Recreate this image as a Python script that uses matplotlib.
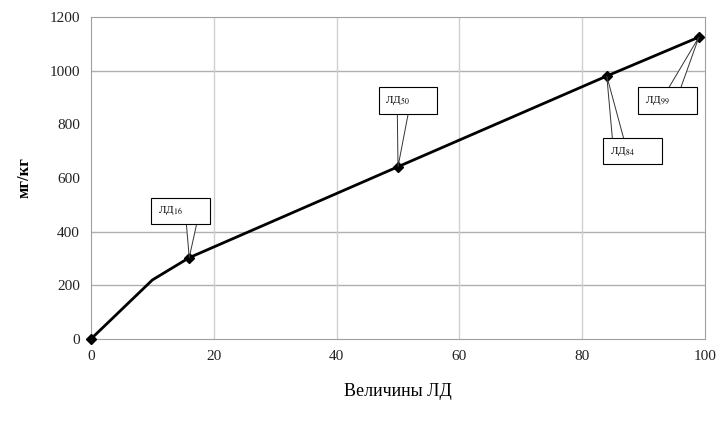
import matplotlib
matplotlib.use('Agg')
import matplotlib.pyplot as plt
import numpy as np

# данные кривой
ld = [0, 10, 16, 50, 84, 99]
doza = [0, 220, 303, 642, 980, 1125]
# точки с маркерами
ld_pts = [0, 16, 50, 84, 99]
doza_pts = [0, 303, 642, 980, 1125]

# подписи-выноски
metki = ['ЛД$_{16}$', 'ЛД$_{50}$', 'ЛД$_{84}$', 'ЛД$_{99}$']
metki_x = [16, 50, 84, 99]
metki_y = [303, 642, 980, 1125]
box_xy = [(14.6, 477), (51.6, 889), (88.2, 700), (93.9, 889)]
# где выноска крепится к рамке
rel = [(0.75, 0.0), (0.4, 0.0), (0.2, 1.0), (0.6, 1.0)]

plt.rcParams['font.family'] = ['Liberation Serif', 'DejaVu Serif']
plt.rcParams['mathtext.fontset'] = 'stix'

fig = plt.figure(figsize=(7.22, 4.25), dpi=100)
ax = fig.add_axes([0.126, 0.2024, 0.8505, 0.7576])

ax.set_xlim(0, 100)
ax.set_ylim(0, 1200)
ax.set_xticks(np.arange(0, 101, 20))
ax.set_yticks(np.arange(0, 1201, 200))

for yy in [200, 400, 1000]:
    ax.axhline(yy, color='#b0b0b0', lw=1, zorder=0)
for xx in [20, 40, 60, 80]:
    ax.axvline(xx, color='#d0d0d0', lw=1, zorder=0)

for s in ax.spines.values():
    s.set_color('#a0a0a0')
ax.tick_params(length=0, labelsize=11, pad=8, colors='#222222')

ax.plot(ld, doza, color='black', lw=2, zorder=3)
ax.plot(ld_pts, doza_pts, 'D', color='black', ms=5, zorder=4, clip_on=False)

for t, px, py, (bx, by), rp in zip(metki, metki_x, metki_y, box_xy, rel):
    ax.annotate(t + '        ', xy=(px, py), xytext=(bx, by), fontsize=8, ha='center', va='center',
                bbox=dict(boxstyle='square,pad=0.6', fc='white', ec='black', lw=0.8),
                arrowprops=dict(arrowstyle='wedge,tail_width=1.1,shrink_factor=0.5',
                                fc='white', ec='#333333', lw=0.7, shrinkA=0, shrinkB=0,
                                relpos=rp, patchA=None),
                zorder=5)

ax.set_xlabel('Величины ЛД', fontsize=13, labelpad=14)
ax.set_ylabel('мг/кг', fontsize=12, fontweight='bold', labelpad=12)

fig.savefig('out.png', dpi=100)
